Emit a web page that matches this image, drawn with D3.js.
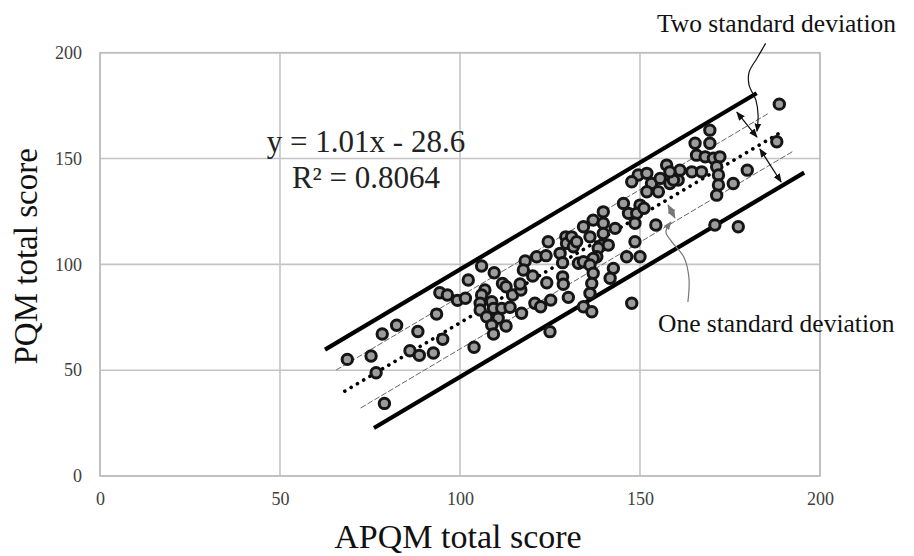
<!DOCTYPE html>
<html><head><meta charset="utf-8">
<script src="https://cdn.jsdelivr.net/npm/d3@7"></script>
<style>html,body{margin:0;padding:0;background:#fff;}svg{display:block;} text{font-family:"Liberation Serif","DejaVu Serif",serif;}</style>
</head><body>
<svg id="chart" width="914" height="556"></svg>
<script>
// ---- data ----
const apqm = [68.7,75.3,76.7,79.0,78.4,82.4,86.1,88.7,92.6,88.3,95.2,93.5,94.4,96.5,99.3,101.5,102.3,103.9,
  106.0,109.5,111.8,112.8,106.9,106.0,105.6,108.8,105.6,107.4,109.3,111.6,110.6,108.8,109.3,112.8,113.9,114.6,116.9,116.7,117.1,118.1,117.6,121.3,123.9,124.5,124.1,120.8,122.4,125.2,125.0,120.2,127.8,128.5,129.4,129.6,128.5,128.7,130.1,131.5,132.9,
  149.5,151.9,147.7,153.2,151.9,155.1,157.4,155.6,158.3,160.6,145.4,146.8,150.0,149.1,148.6,151.1,154.4,139.8,137.0,139.8,143.1,134.3,136.1,139.8,131.0,132.4,139.4,138.4,141.2,148.6,138.0,137.0,134.3,136.1,146.3,150.0,142.6,141.7,137.0,136.6,136.1,134.3,136.6,147.7,
  169.4,188.7,188.0,165.3,169.4,165.7,168.1,170.4,172.2,171.3,171.8,171.8,171.3,175.9,179.8,170.8,177.3,161.1,164.4,167.1,159.3,158.3];
const pqm = [55.1,56.7,48.8,34.3,67.1,71.2,59.2,57.0,58.1,68.3,64.6,76.5,86.6,85.5,83.0,84.0,92.6,60.8,
  99.2,96.0,91.0,89.4,87.9,85.5,81.6,82.3,78.4,75.2,79.2,79.2,74.5,71.3,67.1,70.9,79.7,85.5,87.9,90.7,76.9,101.6,97.3,103.6,104.1,110.7,91.3,81.6,80.0,83.1,68.2,94.5,105.2,100.8,113.0,109.9,94.1,90.6,84.4,108.3,100.5,
  142.2,143.0,139.0,138.2,134.3,134.3,146.9,140.6,138.2,139.8,128.8,124.1,128.0,124.1,119.4,126.5,118.6,124.8,120.9,119.4,117.0,117.8,113.0,114.6,113.0,110.7,109.1,107.6,109.1,110.7,103.6,102.8,101.2,99.7,103.6,103.6,98.1,93.4,95.8,91.0,86.3,80.0,77.6,81.6,
  163.4,175.7,157.9,157.2,157.2,151.6,150.8,150.1,150.8,146.1,142.2,137.5,132.7,138.2,144.5,118.6,117.8,144.5,143.7,143.7,139.8,143.7];
const xTicks = [0, 50, 100, 150, 200];
const yTicks = [0, 50, 100, 150, 200];
const slope = 1.01, intercept = -28.6;
const r2Label = "R² = 0.8064";
const eqLabel = "y = 1.01x - 28.6";
// band lines: offset from regression, x start, x end
const bandOffset = [25.2, 12.4, 0, -12.4, -25.6];
const bandStart  = [62.5, 65.6, 68.0, 72.4, 76.1];
const bandEnd    = [182.4, 185.6, 189.5, 192.4, 195.6];
const bandKind   = ["thick", "thin", "dot", "thin", "thick"];
// annotations (data units)
const twoSdArrows = [[[176.9,171.9],[182.5,160.1]], [[183.3,154.5],[189.2,138.9]]];
const oneSdArrow = [[157.8,128.0],[159.7,121.9]];
const twoSdPointer = [[184.9,204.4],[182.5,197.4],[180.3,190.8],[180.3,184.7],[182.2,177.6],[182.8,170.5],[182.5,162.9]];
const oneSdPointer = [[163.3,82.2],[163.6,93.5],[162.2,103.4],[158.9,110.5],[157.2,115.3],[158.6,120.0]];
const twoSdText = "Two standard deviation";
const oneSdText = "One standard deviation";

// ---- layout ----
const svg = d3.select("#chart");
const L = 100, R = 820, T = 52.7, B = 476;
const x = d3.scaleLinear().domain([0, 200]).range([L, R]);
const y = d3.scaleLinear().domain([0, 200]).range([B, T]);
const font = "Liberation Serif";

svg.append("defs").html(`
<marker id="ah" viewBox="0 0 10 10" refX="9" refY="5" markerWidth="7" markerHeight="7" orient="auto-start-reverse">
 <path d="M0,1 L10,5 L0,9 z" fill="#111"/></marker>
<marker id="ahg" viewBox="0 0 10 10" refX="9" refY="5" markerWidth="7" markerHeight="7" orient="auto-start-reverse">
 <path d="M0,1 L10,5 L0,9 z" fill="#777"/></marker>`);

// grid
const grid = svg.append("g");
grid.selectAll("line.v").data(xTicks).join("line")
  .attr("x1", d => x(d)).attr("x2", d => x(d)).attr("y1", T).attr("y2", B)
  .attr("stroke", "#c4c4c4").attr("stroke-width", 1.6);
grid.selectAll("line.h").data(yTicks).join("line")
  .attr("x1", L).attr("x2", R).attr("y1", d => y(d)).attr("y2", d => y(d))
  .attr("stroke", "#c4c4c4").attr("stroke-width", 1.6);
svg.append("rect").attr("x", L).attr("y", T).attr("width", R - L).attr("height", B - T)
  .attr("fill", "none").attr("stroke", "#bdbdbd").attr("stroke-width", 1.6);

// axes labels via d3 axes
const xAxis = svg.append("g").attr("transform", `translate(0,${B})`)
  .call(d3.axisBottom(x).tickValues(xTicks).tickSize(0).tickPadding(16));
const yAxis = svg.append("g").attr("transform", `translate(${L},0)`)
  .call(d3.axisLeft(y).tickValues(yTicks).tickSize(0).tickPadding(18));
[xAxis, yAxis].forEach(a => {
  a.attr("font-family", font).attr("font-size", 18);
  a.select(".domain").remove();
  a.selectAll("text").style("font-family", font).attr("font-size", 18).attr("fill", "#404040");
});

// titles
svg.append("text").attr("x", (L + R) / 2 - 2).attr("y", 548).attr("text-anchor", "middle")
  .style("font-family", font).attr("font-size", 34).attr("fill", "#111").text("APQM total score");
svg.append("text").attr("transform", `translate(37,${(T + B) / 2 - 8}) rotate(-90)`).attr("text-anchor", "middle")
  .style("font-family", font).attr("font-size", 33).attr("fill", "#111").text("PQM total score");

// band lines
const bands = svg.append("g");
bandOffset.forEach((off, i) => {
  const ln = bands.append("line")
    .attr("x1", x(bandStart[i])).attr("y1", y(slope * bandStart[i] + intercept + off))
    .attr("x2", x(bandEnd[i])).attr("y2", y(slope * bandEnd[i] + intercept + off));
  if (bandKind[i] === "thick") ln.attr("stroke", "#000").attr("stroke-width", 4.2);
  else if (bandKind[i] === "thin") ln.attr("stroke", "#666").attr("stroke-width", 1).attr("stroke-dasharray", "6 2");
  else ln.attr("stroke", "#000").attr("stroke-width", 3.6).attr("stroke-dasharray", "0.1 7.2").attr("stroke-linecap", "round");
});

// points
svg.append("g").selectAll("circle").data(apqm.map((v, i) => [v, pqm[i]])).join("circle")
  .attr("cx", d => x(d[0])).attr("cy", d => y(d[1])).attr("r", 5.2)
  .attr("fill", "#9c9c9c").attr("stroke", "#151515").attr("stroke-width", 3);

// equation
svg.append("text").attr("x", 366).attr("y", 152).attr("text-anchor", "middle")
  .style("font-family", font).attr("font-size", 31).attr("fill", "#222").text(eqLabel);
svg.append("text").attr("x", 366).attr("y", 188).attr("text-anchor", "middle")
  .style("font-family", font).attr("font-size", 31).attr("fill", "#222").text(r2Label);

// annotations
const lineGen = d3.line().x(d => x(d[0])).y(d => y(d[1]));
twoSdArrows.forEach(a => svg.append("path").attr("d", lineGen(a)).attr("stroke", "#111").attr("stroke-width", 1.3)
  .attr("fill", "none").attr("marker-start", "url(#ah)").attr("marker-end", "url(#ah)"));
svg.append("path").attr("d", lineGen(oneSdArrow)).attr("stroke", "#777").attr("stroke-width", 1.3)
  .attr("fill", "none").attr("marker-start", "url(#ahg)").attr("marker-end", "url(#ahg)");
const curveGen = d3.line().x(d => x(d[0])).y(d => y(d[1])).curve(d3.curveCatmullRom);
svg.append("path").attr("d", curveGen(twoSdPointer)).attr("stroke", "#111").attr("stroke-width", 1.2)
  .attr("fill", "none").attr("marker-end", "url(#ah)");
svg.append("path").attr("d", curveGen(oneSdPointer)).attr("stroke", "#777").attr("stroke-width", 1.2)
  .attr("fill", "none").attr("marker-end", "url(#ahg)");
svg.append("text").attr("x", 657).attr("y", 32).style("font-family", font).attr("font-size", 25.5)
  .attr("fill", "#111").text(twoSdText);
svg.append("text").attr("x", 658).attr("y", 332).style("font-family", font).attr("font-size", 25.5)
  .attr("fill", "#111").text(oneSdText);
</script>
</body></html>
